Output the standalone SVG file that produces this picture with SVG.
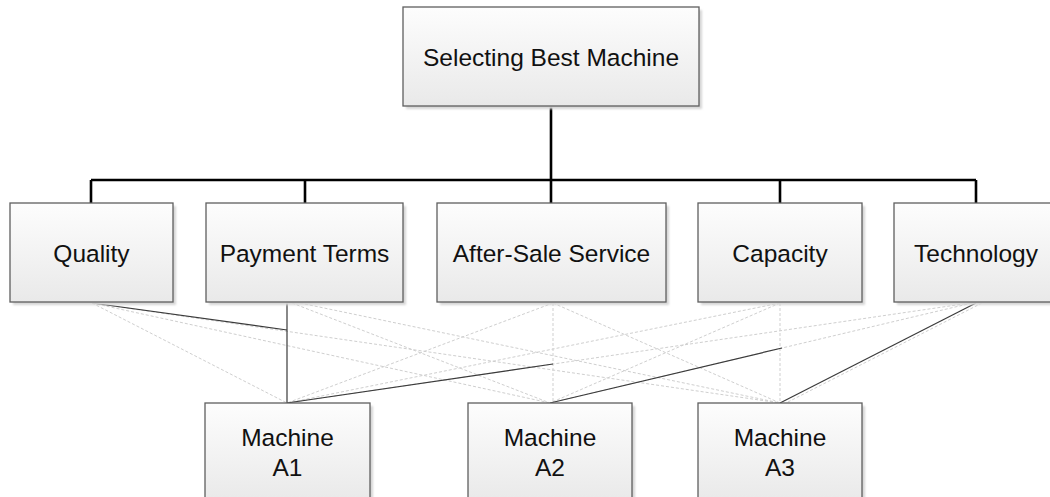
<svg xmlns="http://www.w3.org/2000/svg" width="1050" height="497" viewBox="0 0 1050 497">
  <defs>
    <linearGradient id="boxFill" x1="0" y1="0" x2="0" y2="1">
      <stop offset="0" stop-color="#fdfdfd"/>
      <stop offset="1" stop-color="#e9e9e9"/>
    </linearGradient>
    <filter id="soft" x="-5%" y="-5%" width="115%" height="115%">
      <feGaussianBlur stdDeviation="0.8"/>
    </filter>
  </defs>
  <style>
    .shadow { fill: #d6d6d6; filter: url(#soft); }
    .box { fill: url(#boxFill); stroke: #5f5f5f; stroke-width: 1.3; }
    .label { font-family: "Liberation Sans", Arial, sans-serif; font-size: 24.5px; fill: #111; text-anchor: middle; }
    .tree { fill: none; stroke: #000; stroke-width: 2.6; }
    .faint { fill: none; stroke: #cfcfcf; stroke-width: 1; stroke-dasharray: 3 2; }
    .strong { fill: none; stroke: #3a3a3a; stroke-width: 1.2; }
  </style>

  <rect width="1050" height="497" fill="#fff"/>

  <!-- connectors -->
  <g id="connectors">
    <!-- hierarchy lines -->
    <path class="tree" d="M551 106 V180 M91 180 H976 M91 180 V203 M305 180 V203 M551 180 V203 M780 180 V203 M976 180 V203"/>
    <!-- criterion to alternative links -->
    <g class="faint">
      <line x1="92" y1="303" x2="287" y2="403"/>
      <line x1="92" y1="303" x2="550" y2="403"/>
      <line x1="92" y1="303" x2="780" y2="403"/>
      <line x1="292" y1="303" x2="550" y2="403"/>
      <line x1="300" y1="303" x2="780" y2="403"/>
      <line x1="553" y1="303" x2="287" y2="403"/>
      <line x1="553" y1="303" x2="553" y2="403"/>
      <line x1="553" y1="303" x2="780" y2="403"/>
      <line x1="780" y1="303" x2="287" y2="403"/>
      <line x1="780" y1="303" x2="550" y2="403"/>
      <line x1="780" y1="303" x2="780" y2="403"/>
      <line x1="970" y1="303" x2="287" y2="403"/>
      <line x1="972" y1="303" x2="550" y2="403"/>
      <line x1="982" y1="303" x2="786" y2="403"/>
    </g>
    <g class="strong">
      <line x1="92" y1="303" x2="287" y2="330"/>
      <line x1="287" y1="303" x2="287" y2="403"/>
      <line x1="287" y1="403" x2="553" y2="364"/>
      <line x1="550" y1="403" x2="782" y2="348"/>
      <line x1="780" y1="403" x2="976" y2="303"/>
    </g>
  </g>

  <!-- goal -->
  <g id="goal">
    <rect class="shadow" x="406" y="10" width="296" height="99"/>
    <rect class="box" x="403" y="7" width="296" height="99"/>
    <text class="label" x="551" y="66">Selecting Best Machine</text>
  </g>

  <!-- criteria -->
  <g id="quality">
    <rect class="shadow" x="13" y="206" width="163" height="99"/>
    <rect class="box" x="10" y="203" width="163" height="99"/>
    <text class="label" x="91.5" y="262">Quality</text>
  </g>
  <g id="payment-terms">
    <rect class="shadow" x="209" y="206" width="197" height="99"/>
    <rect class="box" x="206" y="203" width="197" height="99"/>
    <text class="label" x="304.5" y="262">Payment Terms</text>
  </g>
  <g id="after-sale-service">
    <rect class="shadow" x="440" y="206" width="229" height="99"/>
    <rect class="box" x="437" y="203" width="229" height="99"/>
    <text class="label" x="551.5" y="262">After-Sale Service</text>
  </g>
  <g id="capacity">
    <rect class="shadow" x="701" y="206" width="164" height="99"/>
    <rect class="box" x="698" y="203" width="164" height="99"/>
    <text class="label" x="780" y="262">Capacity</text>
  </g>
  <g id="technology">
    <rect class="shadow" x="897" y="206" width="164" height="99"/>
    <rect class="box" x="894" y="203" width="164" height="99"/>
    <text class="label" x="976" y="262">Technology</text>
  </g>

  <!-- alternatives -->
  <g id="machine-a1">
    <rect class="shadow" x="208" y="406" width="165" height="99"/>
    <rect class="box" x="205" y="403" width="165" height="99"/>
    <text class="label" x="287.5" y="446">Machine</text>
    <text class="label" x="287.5" y="476">A1</text>
  </g>
  <g id="machine-a2">
    <rect class="shadow" x="471" y="406" width="164" height="99"/>
    <rect class="box" x="468" y="403" width="164" height="99"/>
    <text class="label" x="550" y="446">Machine</text>
    <text class="label" x="550" y="476">A2</text>
  </g>
  <g id="machine-a3">
    <rect class="shadow" x="701" y="406" width="164" height="99"/>
    <rect class="box" x="698" y="403" width="164" height="99"/>
    <text class="label" x="780" y="446">Machine</text>
    <text class="label" x="780" y="476">A3</text>
  </g>
</svg>
